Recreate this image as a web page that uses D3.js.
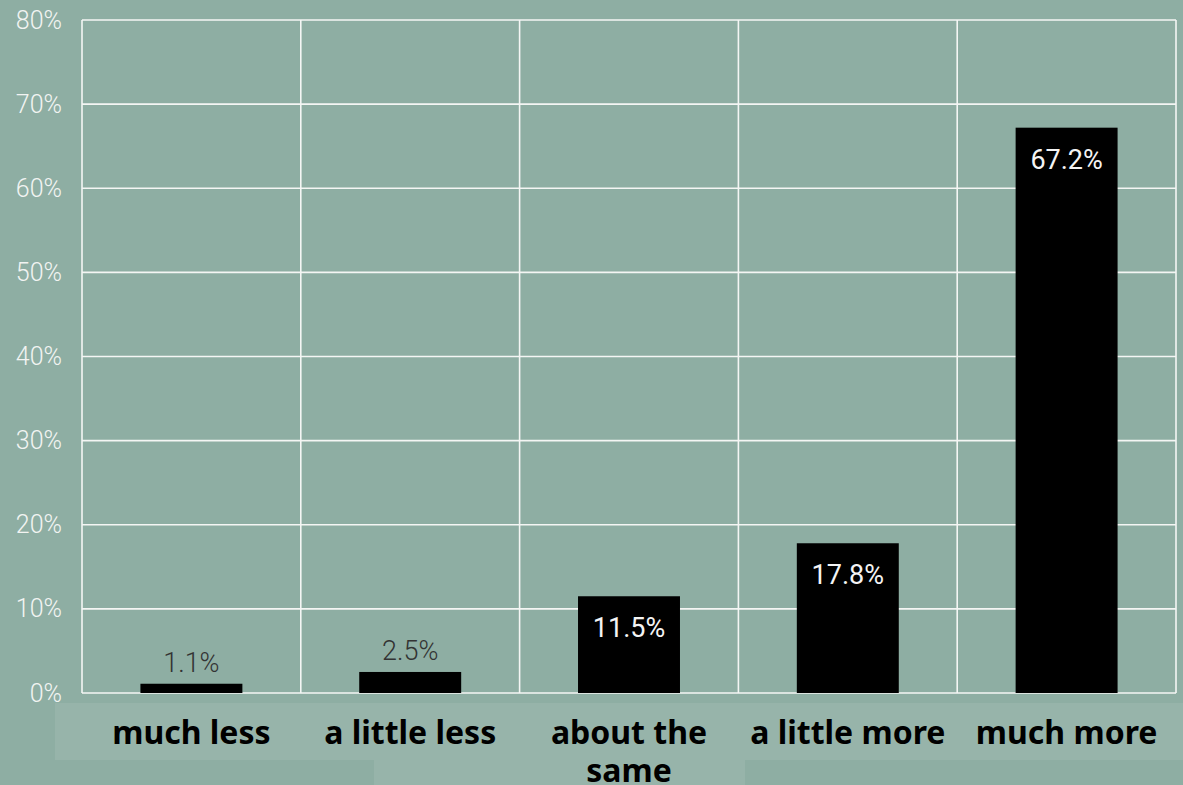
<!DOCTYPE html>
<html>
<head>
<meta charset="utf-8">
<script src="https://cdn.jsdelivr.net/npm/d3@7"></script>
<style>
  html, body { margin: 0; padding: 0; background: #8eaea3; }
  svg { display: block; }
</style>
</head>
<body>
<svg id="chart" width="1183" height="785"></svg>
<script>
// Survey answers and their shares (percent)
const categories = ["much less", "a little less", "about the same", "a little more", "much more"];
const shares = [1.1, 2.5, 11.5, 17.8, 67.2];
const yTicks = [0, 10, 20, 30, 40, 50, 60, 70, 80];

const W = 1183, H = 785;
const margin = { top: 20, right: 7, bottom: 92, left: 82 };
const innerW = W - margin.left - margin.right;
const innerH = H - margin.top - margin.bottom;

const svg = d3.select("#chart");

// lighter strip behind the category labels
svg.append("rect").attr("x", 55).attr("y", 703).attr("width", W - 55).attr("height", 57)
  .attr("fill", "#97b4aa");
svg.append("rect").attr("x", 374).attr("y", 760).attr("width", 371).attr("height", 25)
  .attr("fill", "#97b4aa");

const g = svg.append("g").attr("transform", `translate(${margin.left},${margin.top})`);

const pad = 0.534;
const x = d3.scaleBand().domain(categories).range([0, innerW])
  .paddingInner(pad).paddingOuter(pad / 2);
const y = d3.scaleLinear().domain([0, 80]).range([innerH, 0]);

// horizontal grid
g.selectAll("line.hgrid").data(yTicks).join("line")
  .attr("class", "hgrid")
  .attr("x1", 0).attr("x2", innerW)
  .attr("y1", d => y(d)).attr("y2", d => y(d))
  .attr("stroke", "#f4f6f4").attr("stroke-width", 1.6);

// vertical grid at band boundaries
const step = x.step();
const bounds = d3.range(categories.length + 1).map(i => i * step);
g.selectAll("line.vgrid").data(bounds).join("line")
  .attr("class", "vgrid")
  .attr("x1", d => d).attr("x2", d => d)
  .attr("y1", 0).attr("y2", innerH)
  .attr("stroke", "#f4f6f4").attr("stroke-width", 1.6);

// y axis labels
const yAxis = d3.axisLeft(y).tickValues(yTicks).tickSize(0).tickPadding(20)
  .tickFormat(d => d + "%");
const ya = g.append("g").call(yAxis);
ya.select(".domain").remove();
ya.selectAll("text")
  .attr("font-family", "Roboto, sans-serif")
  .attr("font-weight", 300)
  .attr("font-size", 25)
  .attr("fill", "#f2f4f2");

// bars
const data = categories.map((c, i) => ({ c, v: shares[i] }));
g.selectAll("rect.bar").data(data).join("rect")
  .attr("class", "bar")
  .attr("x", d => x(d.c))
  .attr("y", d => y(d.v))
  .attr("width", x.bandwidth())
  .attr("height", d => innerH - y(d.v))
  .attr("fill", "#000");

// value labels: inside tall bars, above short ones
g.selectAll("text.val").data(data).join("text")
  .attr("class", "val")
  .attr("x", d => x(d.c) + x.bandwidth() / 2)
  .attr("y", d => d.v >= 10 ? y(d.v) + 41 : y(d.v) - 12)
  .attr("text-anchor", "middle")
  .attr("font-family", "Roboto, sans-serif")
  .attr("font-weight", d => d.v >= 10 ? 400 : 300)
  .attr("font-size", 27)
  .attr("fill", d => d.v >= 10 ? "#f4f4f4" : "#333")
  .text(d => d.v.toFixed(1) + "%");

// category labels, wrapped to the band width
const xAxis = d3.axisBottom(x).tickSize(0).tickPadding(0);
const xa = g.append("g").attr("transform", `translate(0,${innerH})`).call(xAxis);
xa.select(".domain").remove();
xa.selectAll("text")
  .attr("font-family", "'Noto Sans', sans-serif")
  .attr("font-weight", 700)
  .attr("font-size", 32)
  .attr("fill", "#000")
  .attr("y", 51)
  .attr("dy", 0)
  .each(function () {
    const t = d3.select(this);
    const words = t.text().split(" ");
    const maxW = step;
    t.text(null);
    let line = [];
    let lineNo = 0;
    let ts = t.append("tspan").attr("x", 0).attr("y", 51);
    words.forEach(w => {
      line.push(w);
      ts.text(line.join(" "));
      if (ts.node().getComputedTextLength() > maxW && line.length > 1) {
        line.pop();
        ts.text(line.join(" "));
        line = [w];
        lineNo++;
        ts = t.append("tspan").attr("x", 0).attr("y", 51 + lineNo * 38).text(w);
      }
    });
  });
</script>
</body>
</html>
